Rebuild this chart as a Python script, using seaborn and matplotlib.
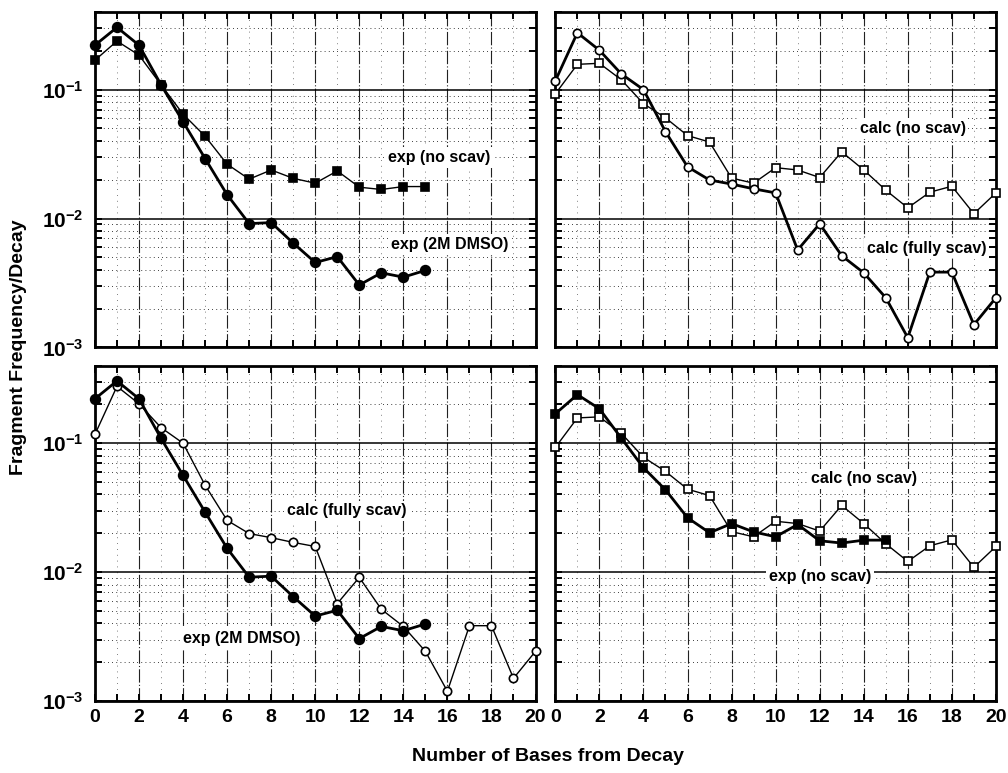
import numpy as np
import pandas as pd
import matplotlib
matplotlib.use("Agg")
import matplotlib.pyplot as plt
import seaborn as sns
from matplotlib.ticker import FixedLocator, FixedFormatter, NullFormatter, MultipleLocator

# ---------------- data ----------------
bases_calc = list(range(21))
bases_exp = list(range(16))

exp_no_scav = [0.169, 0.238, 0.185, 0.109, 0.0645, 0.0435, 0.0264, 0.0202,
               0.0238, 0.0205, 0.0188, 0.0234, 0.0175, 0.0168, 0.0177, 0.0177]
exp_dmso = [0.221, 0.304, 0.221, 0.109, 0.0563, 0.0292, 0.0153, 0.00913,
            0.0093, 0.00645, 0.00456, 0.00506, 0.00305, 0.00379, 0.00351, 0.00396]
calc_no_scav = [0.0927, 0.157, 0.160, 0.119, 0.0778, 0.0604, 0.044, 0.0392,
                0.0206, 0.0188, 0.0248, 0.0238, 0.0208, 0.0329, 0.0238, 0.0166,
                0.0121, 0.0160, 0.0178, 0.0109, 0.0158]
calc_fully_scav = [0.117, 0.276, 0.202, 0.132, 0.100, 0.0472, 0.0252, 0.0199,
                   0.0185, 0.0170, 0.0158, 0.0057, 0.0091, 0.00515, 0.00379,
                   0.00243, 0.00119, 0.00384, 0.00384, 0.0015, 0.00243]

x_ticks = list(range(0, 21, 2))
x_tick_labels = [str(v) for v in x_ticks]
y_ticks = [1e-3, 1e-2, 1e-1]
y_tick_labels = [r"$\mathbf{10^{-3}}$", r"$\mathbf{10^{-2}}$", r"$\mathbf{10^{-1}}$"]

# ---------------- style ----------------
sns.set_theme(style="white")
plt.rcParams["font.family"] = ["Liberation Sans", "DejaVu Sans"]
plt.rcParams["font.weight"] = "bold"
plt.rcParams["mathtext.fontset"] = "custom"
plt.rcParams["mathtext.rm"] = "Liberation Sans:bold"
plt.rcParams["mathtext.bf"] = "Liberation Sans:bold"
for key in ("text.color", "axes.labelcolor", "xtick.color", "ytick.color"):
    plt.rcParams[key] = "black"

series = {
    "exp_no_scav": (bases_exp, exp_no_scav, "s", "black", 6.0),
    "exp_dmso": (bases_exp, exp_dmso, "o", "black", 7.0),
    "calc_no_scav": (bases_calc, calc_no_scav, "s", "white", 5.5),
    "calc_fully_scav": (bases_calc, calc_fully_scav, "o", "white", 6.0),
}

panels = [
    (0, 0, [("exp_no_scav", False), ("exp_dmso", True)],
     [("exp (no scav)", 0.782, 0.566), ("exp (2M DMSO)", 0.805, 0.308)]),
    (0, 1, [("calc_no_scav", False), ("calc_fully_scav", True)],
     [("calc (no scav)", 0.811, 0.653), ("calc (fully scav)", 0.843, 0.296)]),
    (1, 0, [("calc_fully_scav", False), ("exp_dmso", True)],
     [("calc (fully scav)", 0.571, 0.567), ("exp (2M DMSO)", 0.333, 0.187)]),
    (1, 1, [("calc_no_scav", False), ("exp_no_scav", True)],
     [("calc (no scav)", 0.700, 0.662), ("exp (no scav)", 0.600, 0.371)]),
]

fig, axes = plt.subplots(2, 2, figsize=(10.08, 7.73), dpi=100)
fig.subplots_adjust(left=0.0942, right=0.988, top=0.9845, bottom=0.0931,
                    wspace=0.045, hspace=0.054)

for row, col, ser, notes in panels:
    ax = axes[row, col]
    ax.set_yscale("log")
    for name, thick in ser:
        xs, ys, mk, fc, ms = series[name]
        df = pd.DataFrame({"base": xs, "freq": ys})
        sns.lineplot(data=df, x="base", y="freq", ax=ax, color="black",
                     lw=2.0 if thick else 1.0, marker=mk, markersize=ms,
                     markerfacecolor=fc, markeredgecolor="black",
                     markeredgewidth=1.2, zorder=4, clip_on=False)
    ax.set_xlim(0, 20)
    ax.set_ylim(1e-3, 0.4)
    ax.set_xlabel("")
    ax.set_ylabel("")

    ax.set_axisbelow(True)
    ax.xaxis.set_major_locator(FixedLocator(x_ticks))
    ax.xaxis.set_minor_locator(MultipleLocator(1))
    ax.yaxis.set_major_locator(FixedLocator(y_ticks))
    ax.yaxis.set_minor_locator(FixedLocator(
        [m * d for d in (1e-3, 1e-2, 1e-1) for m in range(2, 10) if m * d <= 0.4]))
    ax.yaxis.grid(True, which="major", color="black", lw=1.1, ls="-")
    ax.yaxis.grid(True, which="minor", color="black", lw=0.6, ls=(0, (1, 4)))
    ax.xaxis.grid(True, which="major", color="#222222", lw=0.8, ls=(0, (12, 2, 1, 2)))
    ax.xaxis.grid(True, which="minor", color="#555555", lw=0.6, ls=(0, (1, 6)))

    ax.tick_params(which="both", direction="in", top=True, right=True,
                   bottom=True, left=True, color="black", width=1.4)
    ax.tick_params(which="major", length=5)
    ax.tick_params(which="minor", length=5)
    ax.yaxis.set_minor_formatter(NullFormatter())

    if row == 1:
        ax.xaxis.set_major_formatter(FixedFormatter(x_tick_labels))
        ax.tick_params(axis="x", labelsize=14, pad=6, labelcolor="black")
    else:
        ax.xaxis.set_major_formatter(NullFormatter())
    if col == 0:
        ax.yaxis.set_major_formatter(FixedFormatter(y_tick_labels))
        ax.tick_params(axis="y", labelsize=15, pad=8, labelcolor="black")
    else:
        ax.yaxis.set_major_formatter(NullFormatter())
    for lab in ax.get_xticklabels() + ax.get_yticklabels():
        lab.set_fontweight("bold")

    for sp in ax.spines.values():
        sp.set_visible(True)
        sp.set_color("black")
        sp.set_linewidth(2.0)

    for txt, fx, fy in notes:
        ax.text(fx, fy, txt, transform=ax.transAxes, ha="center", va="center",
                fontsize=11.5, fontweight="bold", color="black", zorder=3,
                bbox=dict(facecolor="white", edgecolor="none", pad=2))

fig.text(0.544, 0.021, "Number of Bases from Decay", ha="center", va="center",
         fontsize=14, fontweight="bold", color="black")
fig.text(0.018, 0.551, "Fragment Frequency/Decay", ha="center", va="center",
         rotation=90, fontsize=14, fontweight="bold", color="black")

fig.savefig("out.png", dpi=100)
